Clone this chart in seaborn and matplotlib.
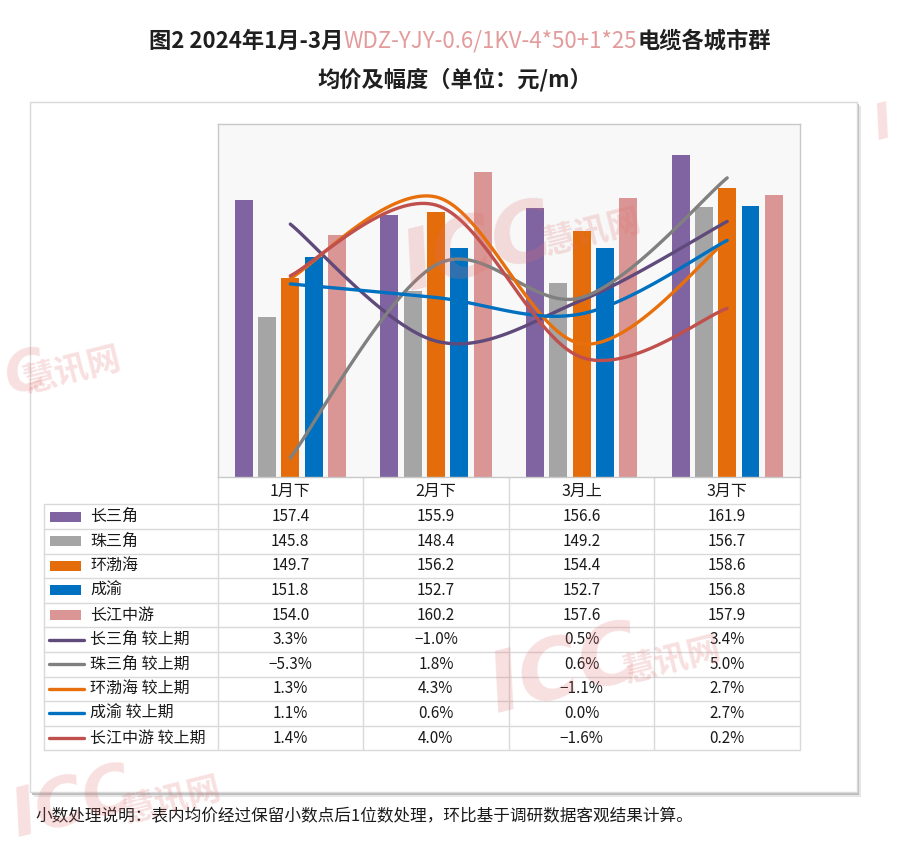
import numpy as np
import pandas as pd
import matplotlib
matplotlib.use("Agg")
import matplotlib.pyplot as plt
import seaborn as sns
from matplotlib.patches import Rectangle
from matplotlib.offsetbox import TextArea, HPacker, AnchoredOffsetbox
import logging
logging.getLogger('matplotlib.font_manager').setLevel(logging.ERROR)

# -------------------------------
# Data
# -------------------------------
periods = ['1月下', '2月下', '3月上', '3月下']
regions = ['长三角', '珠三角', '环渤海', '成渝', '长江中游']

price_csj = [157.4, 155.9, 156.6, 161.9]
price_zsj = [145.8, 148.4, 149.2, 156.7]
price_hbh = [149.7, 156.2, 154.4, 158.6]
price_cy = [151.8, 152.7, 152.7, 156.8]
price_cjzy = [154.0, 160.2, 157.6, 157.9]

chg_csj = [3.3, -1.0, 0.5, 3.4]
chg_zsj = [-5.3, 1.8, 0.6, 5.0]
chg_hbh = [1.3, 4.3, -1.1, 2.7]
chg_cy = [1.1, 0.6, 0.0, 2.7]
chg_cjzy = [1.4, 4.0, -1.6, 0.2]

prices = [price_csj, price_zsj, price_hbh, price_cy, price_cjzy]
changes = [chg_csj, chg_zsj, chg_hbh, chg_cy, chg_cjzy]

bar_colors = ['#8064A2', '#A5A5A5', '#E46C0A', '#0070C0', '#DA9694']
line_colors = ['#604A7B', '#808080', '#E8700C', '#0070C0', '#C0504D']

# -------------------------------
# Style
# -------------------------------
sns.set_style('white')
plt.rcParams['font.family'] = ['Noto Sans CJK SC', 'DejaVu Sans']
plt.rcParams['axes.unicode_minus'] = True

W, H = 900, 863
fig = plt.figure(figsize=(W / 100, H / 100), dpi=100)

# pixel-coordinate canvas for frame, table and notes
bg = fig.add_axes([0, 0, 1, 1])
bg.set_xlim(0, W)
bg.set_ylim(H, 0)
bg.axis('off')
bg.set_zorder(0)

# chart frame with soft shadow
bg.add_patch(Rectangle((34, 106), 827, 691, facecolor='#E6E6E6', edgecolor='none', zorder=0))
bg.add_patch(Rectangle((32, 104), 827, 691, facecolor='#BDBDBD', edgecolor='none', zorder=0.1))
bg.add_patch(Rectangle((30, 102), 827, 690, facecolor='white', edgecolor='#D9D9D9', lw=1, zorder=0.2))

# -------------------------------
# Bars (primary axis)
# -------------------------------
px_left, px_right, px_top, px_bot = 217.5, 800, 123.5, 477
ax = fig.add_axes([px_left / W, 1 - px_bot / H, (px_right - px_left) / W, (px_bot - px_top) / H])
ax.set_zorder(2)

df = pd.DataFrame({
    'period': np.tile(periods, len(regions)),
    'region': np.repeat(regions, len(periods)),
    'price': np.concatenate(prices),
})
sns.barplot(data=df, x='period', y='price', hue='region', palette=bar_colors,
            width=0.8, gap=0.23, saturation=1, linewidth=0, legend=False, ax=ax)
ax.set_ylim(130, 165)
ax.set_xlim(-0.5, 3.5)
ax.set_facecolor('#F8F8F8')
ax.set_xticks([])
ax.set_yticks([])
ax.set_xlabel('')
ax.set_ylabel('')
for s in ax.spines.values():
    s.set_color('#C8C8C8')
    s.set_linewidth(1)


# -------------------------------
# Smoothed lines (secondary axis)
# -------------------------------
def smooth_curve(vals, n=40):
    # bezier smoothing like the office "smoothed line" option
    p = np.column_stack([np.arange(len(vals)), vals]).astype(float)
    pts = np.vstack([p[0], p, p[-1]])
    t = np.linspace(0, 1, n)[:, None]
    out = []
    for i in range(1, len(pts) - 2):
        p0, p1, p2, p3 = pts[i - 1], pts[i], pts[i + 1], pts[i + 2]
        c1 = p1 + (p2 - p0) / 6
        c2 = p2 - (p3 - p1) / 6
        seg = (1 - t) ** 3 * p1 + 3 * (1 - t) ** 2 * t * c1 + 3 * (1 - t) * t ** 2 * c2 + t ** 3 * p2
        out.append(seg if i == 1 else seg[1:])
    out = np.vstack(out)
    return out[:, 0], out[:, 1]


ax2 = ax.twinx()
ax2.set_zorder(3)
ax2.set_ylim(-6, 7)
ax2.set_yticks([])
for s in ax2.spines.values():
    s.set_visible(False)
for vals, c in zip(changes, line_colors):
    xs, ys = smooth_curve(vals)
    ax2.plot(xs, ys, color=c, lw=2.4, solid_capstyle='round')
ax2.set_xlim(-0.5, 3.5)

# -------------------------------
# Data table under the chart
# -------------------------------
grid_c = '#D9D9D9'
col_w = (px_right - px_left) / 4
col_edges = [px_left + col_w * k for k in range(5)]
row_top = 504.3
row_h = 24.6
tab_left = 44

for xe in col_edges:
    bg.plot([xe, xe], [px_bot, row_top + 10 * row_h], color=grid_c, lw=1, zorder=1)
bg.plot([tab_left, tab_left], [row_top, row_top + 10 * row_h], color=grid_c, lw=1, zorder=1)
for k in range(11):
    yy = row_top + k * row_h
    bg.plot([tab_left, px_right], [yy, yy], color=grid_c, lw=1, zorder=1)

for j, per in enumerate(periods):
    bg.text(col_edges[j] + col_w / 2, (px_bot + row_top) / 2 + 1, per, ha='center', va='center',
            fontsize=11.5, color='#1A1A1A', zorder=2)

row_labels = regions + [r + ' 较上期' for r in regions]
for i, lab in enumerate(row_labels):
    yc = row_top + (i + 0.5) * row_h
    if i < 5:
        bg.add_patch(Rectangle((50, yc - 5), 31, 10, facecolor=bar_colors[i], edgecolor='none', zorder=2))
        vals = ['%.1f' % v for v in prices[i]]
    else:
        bg.plot([49, 84], [yc, yc], color=line_colors[i - 5], lw=2.4, solid_capstyle='round', zorder=2)
        vals = [('%.1f%%' % v).replace('-', '\u2212') for v in changes[i - 5]]
    bg.text(90, yc, lab, ha='left', va='center', fontsize=11.5, color='#1A1A1A', zorder=2)
    for j, v in enumerate(vals):
        bg.text(col_edges[j] + col_w / 2, yc, v, ha='center', va='center',
                fontsize=11, color='#1A1A1A', zorder=2)

# -------------------------------
# Title and footnote
# -------------------------------
title_col = '#1F1F1F'
pink = '#E39B9B'
tp = dict(fontsize=16, color=title_col, fontweight='bold')
parts = [TextArea('图2 2024年1月-3月', textprops=tp),
         TextArea('WDZ-YJY-0.6/1KV-4*50+1*25', textprops=dict(tp, color=pink, fontweight='normal')),
         TextArea('电缆各城市群', textprops=tp)]
line1 = HPacker(children=parts, align='baseline', pad=0, sep=0)
fig.add_artist(AnchoredOffsetbox(loc='center', child=line1, frameon=False, pad=0, borderpad=0,
                                 bbox_to_anchor=(460 / W, 1 - 41 / H), bbox_transform=fig.transFigure))
fig.text(455 / W, 1 - 80 / H, '均价及幅度（单位：元/m）', ha='center', va='center', **tp)

fig.text(35 / W, 1 - 817 / H, '小数处理说明：表内均价经过保留小数点后1位数处理，环比基于调研数据客观结果计算。',
         ha='left', va='center', fontsize=12, color='#1A1A1A')

# -------------------------------
# Watermarks
# -------------------------------
wm = fig.add_axes([0, 0, 1, 1])
wm.set_xlim(0, W)
wm.set_ylim(H, 0)
wm.axis('off')
wm.set_zorder(10)
wm_kw = dict(ha='center', va='center', fontweight='bold', color='#E07070', alpha=0.22, rotation=14)
icc_fam = ['Liberation Sans Narrow', 'DejaVu Sans']
# (text, x, y, size) for the "ICC" part and the "慧讯网" part
wm_icc = [('ICC', 478, 250, 60), ('ICC', 565, 672, 60), ('C', 26, 374, 40), ('ICC', 72, 804, 48), ('I', 884, 124, 36)]
wm_cn = [(592, 232), (672, 660), (72, 370), (172, 800)]
for txt, x, y, fs in wm_icc:
    wm.text(x, y, txt, fontsize=fs, style='italic', family=icc_fam, **wm_kw)
for x, y in wm_cn:
    wm.text(x, y, '慧讯网', fontsize=24, **wm_kw)

fig.savefig('out.png', dpi=100)
